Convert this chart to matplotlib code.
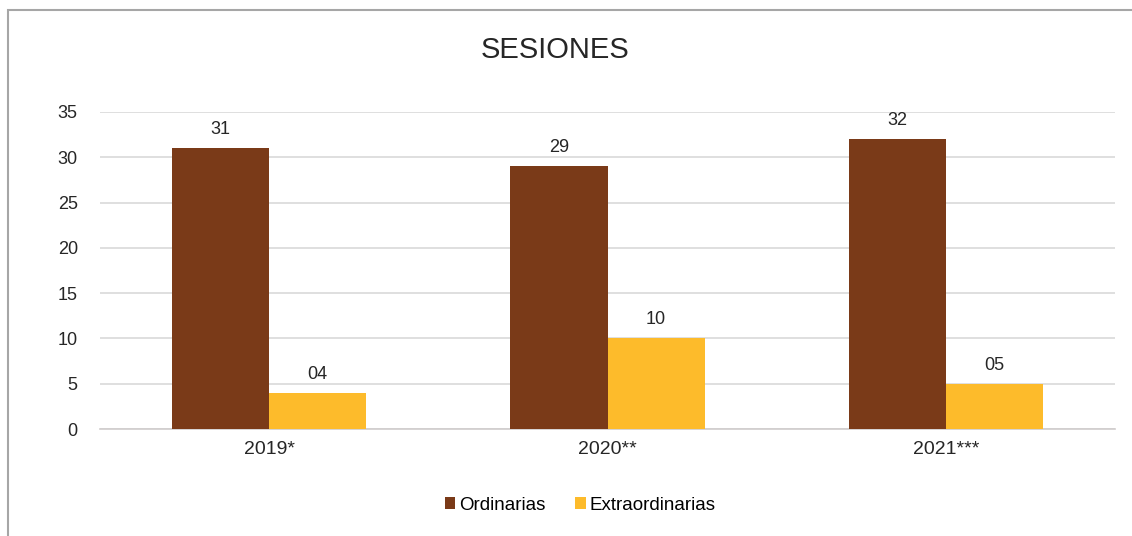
import numpy as np
import matplotlib.pyplot as plt
from matplotlib.patches import Rectangle

plt.rcParams['font.family'] = ['Liberation Sans', 'DejaVu Sans']

years = ['2019*', '2020**', '2021***']
ordinarias = [31, 29, 32]
extraordinarias = [4, 10, 5]
ord_labels = ['31', '29', '32']
ext_labels = ['04', '10', '05']

brown = '#7A3A18'
yellow = '#FDBB2B'

fig = plt.figure(figsize=(11.32, 5.36), dpi=100)
ax = fig.add_axes([100 / 1132, 1 - 429 / 536, 1015 / 1132, 317 / 536])

# outer frame of the chart area (bottom and right edges fall outside the image)
fig.patches.append(Rectangle((8 / 1132, -0.2), 1.2, 1.2 - 10 / 536,
                             transform=fig.transFigure, fill=False,
                             edgecolor='#A6A6A6', linewidth=1.5))

x = np.arange(len(years))
w = 0.287
b1 = ax.bar(x - w / 2, ordinarias, w, color=brown, label='Ordinarias', zorder=3)
b2 = ax.bar(x + w / 2, extraordinarias, w, color=yellow, label='Extraordinarias', zorder=3)

for rect, lab in zip(b1, ord_labels):
    ax.text(rect.get_x() + rect.get_width() / 2, rect.get_height() + 1.1, lab,
            ha='center', va='bottom', fontsize=13, color='#262626')
for rect, lab in zip(b2, ext_labels):
    ax.text(rect.get_x() + rect.get_width() / 2, rect.get_height() + 1.1, lab,
            ha='center', va='bottom', fontsize=13, color='#262626')

ax.set_xlim(-0.5, 2.5)
ax.set_ylim(0, 35)
ax.set_yticks(range(0, 36, 5))
ax.set_xticks(x)
ax.set_xticklabels(years)
ax.tick_params(length=0, labelsize=13, colors='#262626')
ax.tick_params(axis='x', labelsize=14, pad=9)
ax.tick_params(axis='y', pad=16)
ax.grid(axis='y', color='#D9D9D9', linewidth=1.2, zorder=0)
for s in ['top', 'right', 'left']:
    ax.spines[s].set_visible(False)
ax.spines['bottom'].set_color('#D0CCCC')
ax.spines['bottom'].set_linewidth(1.2)

fig.text(555 / 1132, 1 - 50 / 536, 'SESIONES', ha='center', va='center',
         fontsize=21, color='#262626')

fig.legend(handles=[b1, b2], loc='center', bbox_to_anchor=(580 / 1132, 1 - 505 / 536),
           ncol=2, frameon=False, fontsize=13.5, handlelength=0.55, handleheight=0.55,
           handletextpad=0.2, columnspacing=1.6)

fig.savefig('out.png', dpi=100)
